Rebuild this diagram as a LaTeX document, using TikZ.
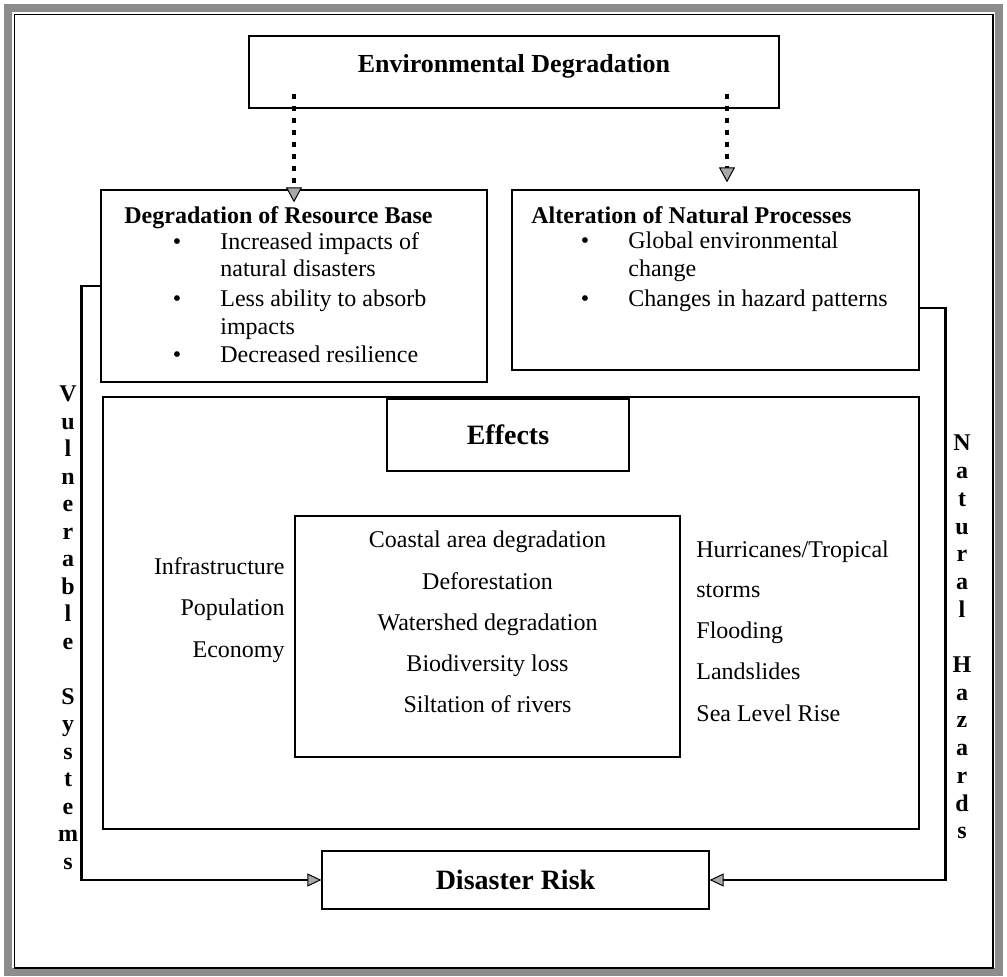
\documentclass[tikz,border=0pt]{standalone}
\usepackage{fontspec}
\setmainfont{Liberation Serif}
\usetikzlibrary{arrows.meta}
\definecolor{framegray}{HTML}{8C8C8C}
\definecolor{tipgray}{HTML}{A8A8A8}
\tikzset{
  risk box/.style={draw,line width=.6pt,inner sep=0pt},
  risk link/.style={line width=1.3pt,-{Triangle[length=7pt,width=6.5pt,line width=.5pt,fill=tipgray]}},
  risk dots/.style={line width=1.6pt,dash pattern=on 2.5pt off 3.5pt,-{Triangle[length=7.5pt,width=8pt,line width=.5pt,fill=tipgray]}},
  risk item/.style={anchor=base west,inner sep=0pt},
  risk title/.style={anchor=base west,inner sep=0pt,font=\fontsize{12}{14}\selectfont\bfseries},
  risk dot/.style={anchor=base,inner sep=0pt,font=\fontsize{12}{14}\selectfont},
  risk letter/.style={anchor=base,inner sep=0pt,font=\fontsize{12}{14}\selectfont\bfseries}
}
\begin{document}
\begin{tikzpicture}[x=.5pt,y=-.5pt,font=\fontsize{12}{14}\selectfont]
  \useasboundingbox (0,0) rectangle (1007,977);
  % frame
  \draw[framegray,line width=4pt] (8,8) rectangle (999,972);
  \draw[line width=.6pt] (14.5,14.5) rectangle (993,968);
  % boxes
  \node[risk box,minimum width=265pt,minimum height=36pt,font=\fontsize{13}{15}\selectfont\bfseries,text depth=9pt] (env) at (514,72) {Environmental Degradation};
  \node[risk box,minimum width=193pt,minimum height=96pt] (deg) at (294,286) {};
  \node[risk box,minimum width=203.5pt,minimum height=90pt] (alt) at (715.5,280) {};
  \node[risk box,minimum width=408pt,minimum height=216pt] (effarea) at (511,613) {};
  \node[risk box,minimum width=121pt,minimum height=36pt,font=\fontsize{14}{16}\selectfont\bfseries] (eff) at (508,435) {Effects};
  \node[risk box,minimum width=192.5pt,minimum height=120.5pt] (causes) at (487.5,636.5) {};
  \node[risk box,minimum width=193.5pt,minimum height=29pt,font=\fontsize{14}{16}\selectfont\bfseries] (dis) at (515.5,880) {Disaster Risk};
  % degradation of resource base
  \node[risk title] (degt) at (124,224) {Degradation of Resource Base};
  \foreach \y [count=\i] in {250,307,363}{\node[risk dot] (degb\i) at (177,\y) {•};}
  \foreach \y/\txt [count=\i] in {250/Increased impacts of,277/natural disasters,307/Less ability to absorb,335/impacts,363/Decreased resilience}{
    \node[risk item] (degl\i) at (220,\y) {\txt};}
  % alteration of natural processes
  \node[risk title] (altt) at (531,224) {Alteration of Natural Processes};
  \foreach \y [count=\i] in {249,307}{\node[risk dot] (altb\i) at (585,\y) {•};}
  \foreach \y/\txt [count=\i] in {249/Global environmental,277/change,307/Changes in hazard patterns}{
    \node[risk item] (altl\i) at (628,\y) {\txt};}
  % effects lists
  \foreach \txt [count=\i from 0] in {Coastal area degradation,Deforestation,Watershed degradation,Biodiversity loss,Siltation of rivers}{
    \node[anchor=base,inner sep=0pt] (cause\i) at (487.5,{548+41.25*\i}) {\txt};}
  \foreach \y/\txt [count=\i] in {575/Infrastructure,616/Population,658/Economy}{
    \node[anchor=base east,inner sep=0pt] (sys\i) at (285,\y) {\txt};}
  \foreach \y/\txt [count=\i] in {558/{Hurricanes/Tropical},598/storms,639/Flooding,680/Landslides,722/Sea Level Rise}{
    \node[risk item] (haz\i) at (696,\y) {\txt};}
  % side labels
  \foreach \ch [count=\i from 0] in {V,u,l,n,e,r,a,b,l,e,{},S,y,s,t,e,m,s}{
    \node[risk letter] (vul\i) at (68,{402+27.5*\i}) {\ch};}
  \foreach \ch [count=\i from 0] in {N,a,t,u,r,a,l,{},H,a,z,a,r,d,s}{
    \node[risk letter] (nat\i) at (962,{451+27.7*\i}) {\ch};}
  % connectors
  \draw[risk dots] ([xshift=-110pt,yshift=7.5pt]env.south) -- ([yshift=-6.5pt]deg.north);
  \draw[risk dots] ([xshift=106.5pt,yshift=7.5pt]env.south) -- ([xshift=5.75pt,yshift=3.5pt]alt.north);
  \draw[risk link] (deg.west) -- ++(-19,0) |- (dis.west);
  \draw[risk link] ([yshift=-14pt]alt.east) -- ++(26,0) |- (dis.east);
\end{tikzpicture}
\end{document}
